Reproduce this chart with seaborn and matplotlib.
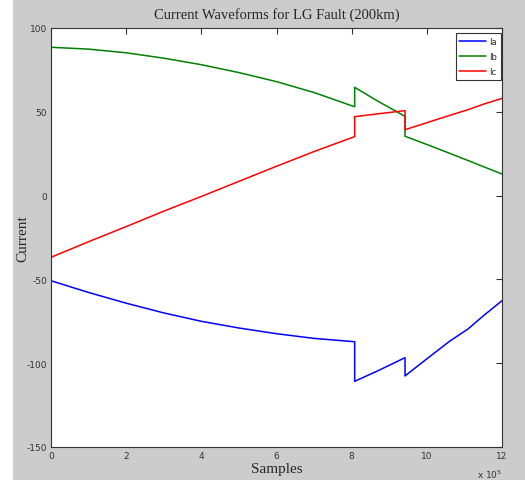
import pandas as pd
import matplotlib
matplotlib.use("Agg")
import matplotlib.pyplot as plt
import seaborn as sns
from matplotlib.patches import Rectangle
from matplotlib.ticker import FuncFormatter

# sample positions (x 10^5), jumps at 8.08 and 9.42 repeated
samples = [0, 1, 2, 3, 4, 5, 6, 7, 8.08, 8.08, 8.7, 9.42, 9.42, 10.0, 10.6, 11.1, 11.5, 12]
ia = [-50.8, -57.8, -64.2, -70.0, -75.0, -79.0, -82.4, -85.2, -87.2, -110.8, -104.5, -96.7,
      -107.6, -97.4, -87.0, -79.5, -71.8, -62.7]
ib = [88.5, 87.4, 85.2, 82.0, 78.1, 73.4, 68.0, 61.5, 53.0, 64.6, 56.3, 47.3,
      35.4, 30.5, 25.3, 20.9, 17.3, 12.9]
ic = [-36.8, -27.5, -18.5, -9.3, -0.5, 8.5, 17.5, 26.3, 35.2, 47.1, 48.8, 50.7,
      39.3, 43.5, 47.8, 51.3, 54.5, 58.0]
series = ["Ia", "Ib", "Ic"]
colors = ["#0000ff", "#008000", "#ff0000"]

df = pd.concat([
    pd.DataFrame({"Samples": [s * 1e5 for s in samples], "Current": vals, "phase": name})
    for name, vals in zip(series, [ia, ib, ic])
])

sns.set_style("white")
plt.rcParams["axes.unicode_minus"] = False
fig = plt.figure(figsize=(5.25, 4.81), dpi=100)
fig.patch.set_facecolor("white")
fig.patches.append(Rectangle((13 / 525, 0), 1, 1, transform=fig.transFigure,
                             facecolor="#cccccc", edgecolor="none", zorder=-10))

ax = fig.add_axes([51 / 525, 1 - 448 / 481, 451 / 525, 419 / 481])
sns.lineplot(data=df, x="Samples", y="Current", hue="phase", palette=colors,
             estimator=None, sort=False, linewidth=1.1, ax=ax)

ax.set_xlim(0, 12e5)
ax.set_ylim(-150, 100)
ax.set_xticks([i * 2e5 for i in range(7)])
ax.set_yticks([-150, -100, -50, 0, 50, 100])
ax.xaxis.set_major_formatter(FuncFormatter(lambda v, p: f"{v / 1e5:g}"))
ax.tick_params(direction="in", length=4, width=0.8, top=True, right=True,
               labelsize=6.5, labelcolor="#333333", color="#333333", pad=3)
for s in ax.spines.values():
    s.set_color("#333333")
    s.set_linewidth(0.8)

ax.set_title("Current Waveforms for LG Fault (200km)", family="Liberation Serif",
             fontsize=10.5, pad=7)
ax.set_xlabel("Samples", family="Liberation Serif", fontsize=11, labelpad=1)
ax.set_ylabel("Current", family="Liberation Serif", fontsize=11)
ax.yaxis.set_label_coords(-0.047, 0.5)
ax.text(1.0, -0.05, r"x 10$^5$", transform=ax.transAxes, ha="right", va="top",
        fontsize=6.5, color="#333333")

leg = ax.legend(loc="upper right", bbox_to_anchor=(0.998, 0.988), fontsize=6,
                frameon=True, fancybox=False, handlelength=3.2, borderpad=0.45,
                labelspacing=0.75, handletextpad=0.4, borderaxespad=0)
leg.get_frame().set_edgecolor("#333333")
leg.get_frame().set_linewidth(0.8)
leg.get_frame().set_alpha(1)

fig.savefig("out.png", dpi=100)
